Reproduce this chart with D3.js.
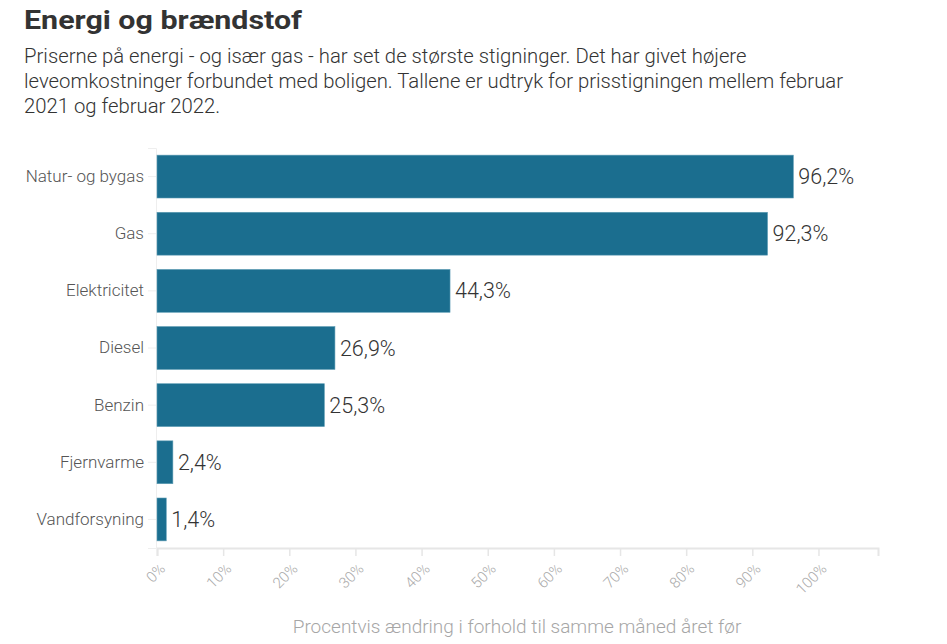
<!DOCTYPE html>
<html>
<head>
<meta charset="utf-8">
<script src="https://cdn.jsdelivr.net/npm/d3@7"></script>
<style>
  body { margin: 0; background: #fff; font-family: Roboto, "Noto Sans", sans-serif; }
</style>
</head>
<body>
<div id="chart"></div>
<script>
// Chart data
const categories = ["Natur- og bygas", "Gas", "Elektricitet", "Diesel", "Benzin", "Fjernvarme", "Vandforsyning"];
const values = [96.2, 92.3, 44.3, 26.9, 25.3, 2.4, 1.4];
const tickValues = [0, 10, 20, 30, 40, 50, 60, 70, 80, 90, 100];

const width = 947;
const height = 644;
const margin = { left: 157, right: 69, top: 148, bottom: 96 };

const svg = d3
  .select("#chart")
  .append("svg")
  .attr("width", width)
  .attr("height", height);

// Title and subtitle
svg
  .append("text")
  .attr("x", 24)
  .attr("y", 29)
  .attr("font-size", "26px")
  .attr("font-weight", "bold")
  .attr("fill", "#333")
  .attr("textLength", 278)
  .attr("lengthAdjust", "spacingAndGlyphs")
  .text("Energi og brændstof");

const subtitle = [
  "Priserne på energi - og især gas - har set de største stigninger. Det har givet højere",
  "leveomkostninger forbundet med boligen. Tallene er udtryk for prisstigningen mellem februar",
  "2021 og februar 2022.",
];
subtitle.forEach((line, i) => {
  svg
    .append("text")
    .attr("x", 24)
    .attr("y", 63 + i * 25)
    .attr("font-size", "20.3px")
    .attr("font-weight", 300)
    .attr("fill", "#333")
    .text(line);
});

const x = d3
  .scaleLinear()
  .domain([0, 109])
  .range([margin.left, width - margin.right]);

const y = d3
  .scaleBand()
  .domain(categories)
  .range([margin.top, height - margin.bottom])
  .paddingInner(0.25)
  .paddingOuter(0.125);

// x axis
const xAxis = svg
  .append("g")
  .attr("transform", `translate(0,${height - margin.bottom})`)
  .call(
    d3
      .axisBottom(x)
      .tickValues(tickValues)
      .tickSize(8)
      .tickFormat((d) => d + "%")
  );
xAxis.select(".domain").attr("stroke", "#e6e6e6").attr("stroke-width", 2);
xAxis.selectAll(".tick line").attr("stroke", "#e6e6e6").attr("stroke-width", 1.5);
xAxis
  .selectAll(".tick text")
  .attr("fill", "#aaaaaa")
  .attr("font-size", "15px")
  .attr("font-weight", 300)
  .attr("font-family", "Roboto, sans-serif")
  .attr("text-anchor", "end")
  .attr("x", 0)
  .attr("y", 0)
  .attr("dy", "0.35em")
  .attr("transform", "translate(5,18) rotate(-45)");

// y axis
const yAxis = svg
  .append("g")
  .attr("transform", `translate(${margin.left - 1},0)`)
  .call(d3.axisLeft(y).tickSize(8).tickPadding(4));
yAxis.select(".domain").attr("stroke", "#eeeeee").attr("stroke-width", 1);
yAxis.selectAll(".tick line").attr("stroke", "#eeeeee");
yAxis
  .selectAll(".tick text")
  .attr("fill", "#555")
  .attr("font-size", "17px")
  .attr("font-weight", 300)
  .attr("font-family", "Roboto, sans-serif");

// Bars
const bars = svg.append("g");
bars
  .selectAll("rect")
  .data(values)
  .join("rect")
  .attr("x", x(0))
  .attr("y", (d, i) => y(categories[i]))
  .attr("width", (d) => x(d) - x(0))
  .attr("height", y.bandwidth())
  .attr("fill", "#1b6e8f")
  .attr("stroke", "#5d9cb4")
  .attr("stroke-width", 0.6);

// Value labels
bars
  .selectAll("text")
  .data(values)
  .join("text")
  .attr("x", (d) => x(d) + 5)
  .attr("y", (d, i) => y(categories[i]) + y.bandwidth() / 2)
  .attr("dy", "0.35em")
  .attr("font-size", "21.5px")
  .attr("font-weight", 300)
  .attr("fill", "#333")
  .text((d) => d.toFixed(1).replace(".", ",") + "%");

// Axis title
svg
  .append("text")
  .attr("x", 517)
  .attr("y", 633)
  .attr("text-anchor", "middle")
  .attr("font-size", "19px")
  .attr("font-weight", 300)
  .attr("fill", "#a6a6a6")
  .text("Procentvis ændring i forhold til samme måned året før");
</script>
</body>
</html>
